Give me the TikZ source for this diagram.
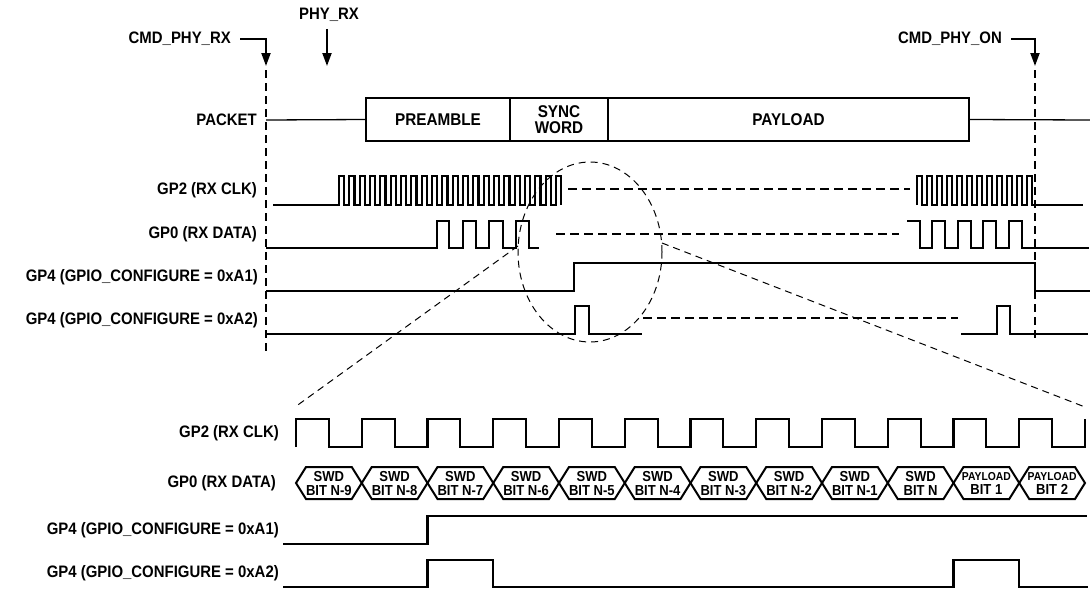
\documentclass[tikz,border=0pt]{standalone}
\usepackage{fontspec}
\setmainfont[FakeStretch=0.9]{Liberation Sans}
\usetikzlibrary{arrows.meta}
\begin{document}
\begin{tikzpicture}[x=1pt,y=-1pt,
  lbl/.style={font=\bfseries\fontsize{16.6}{17}\selectfont, anchor=east, inner sep=0pt},
  toplbl/.style={font=\bfseries\fontsize{16.6}{17}\selectfont, inner sep=0pt},
  wave/.style={line width=2.2pt, line join=miter},
  thickdash/.style={line width=2.2pt, dash pattern=on 9pt off 5pt},
  marker/.style={line width=2pt, dash pattern=on 8pt off 5pt},
  zoomline/.style={line width=1pt, dash pattern=on 7pt off 5pt},
  pbox/.style={draw, line width=2.2pt, minimum height=43pt, inner sep=0pt, align=center,
               font=\bfseries\fontsize{17}{16}\selectfont},
  hexline/.style={line width=2pt, line join=miter},
  hexlbl/.style={font=\bfseries\fontsize{14.5}{14.5}\selectfont, align=center, inner sep=0pt},
  arr/.style={line width=2pt, -{Triangle[width=9pt,length=13pt]}}
]
\useasboundingbox (0,0) rectangle (1090,590);
\fill[white] (0,0) rectangle (1090,590);

% ---- event markers
\node[toplbl] (phyrx) at (329,15) {PHY\_RX};
\node[toplbl, anchor=east] (cmdrx) at (231,39) {CMD\_PHY\_RX};
\node[toplbl, anchor=east] (cmdon) at (1002,39) {CMD\_PHY\_ON};
\draw[arr] ([yshift=-7pt]phyrx.south -| 327,0) -- (327,66);
\draw[arr] ([xshift=9pt]cmdrx.east) -| (266,66);
\draw[arr] ([xshift=9pt]cmdon.east) -| (1035,66);
\draw[marker] (266,70) -- (266,351);
\draw[marker] (1035,70) -- (1035,338);

% ---- packet
\node[lbl] (lpacket) at (257,120) {PACKET};
\node[pbox, minimum width=144pt] (pre) at (438,119.5) {PREAMBLE};
\node[pbox, minimum width=98pt] (sync) at (559,119.5) {SYNC\\WORD};
\node[pbox, minimum width=361pt] (pay) at (788.5,119.5) {PAYLOAD};
\draw[line width=1.3pt] (266,120) -- (pre.west);
\draw[line width=1.3pt] (pay.east) -- (1090,120);

% ---- top labels
\node[lbl] (lclk) at (257,190.5) {GP2 (RX CLK)};
\node[lbl] (ldata) at (257,234.5) {GP0 (RX DATA)};
\node[lbl] (la1) at (258,277) {GP4 (GPIO\_CONFIGURE = 0xA1)};
\node[lbl] (la2) at (258,320) {GP4 (GPIO\_CONFIGURE = 0xA2)};

% ---- top clock
\draw[wave] (273,205) foreach \k in {0,...,21} {
   -- ({339+\k*10.33},205) -- ({339+\k*10.33},176) -- ({339+\k*10.33+5.165},176) -- ({339+\k*10.33+5.165},205) };
\draw[thickdash] (568,189) -- (910,189);
\draw[wave] (917,205) foreach \k in {0,...,11} {
   -- ({917+\k*10},205) -- ({917+\k*10},176) -- ({917+\k*10+5},176) -- ({917+\k*10+5},205) } -- (1083,205);

% ---- top data
\draw[wave] (266,248) -- (437,248) -- (437,221) -- (449,221) -- (449,248) -- (463,248) -- (463,221)
  -- (476,221) -- (476,248) -- (489,248) -- (489,221) -- (503,221) -- (503,248) -- (516,248)
  -- (516,221) -- (529,221) -- (529,248) -- (539,248);
\draw[thickdash] (556,234) -- (899,234);
\draw[wave] (907,221) -- (920,221) -- (920,248) -- (932,248) -- (932,221) -- (945,221) -- (945,248)
  -- (958,248) -- (958,221) -- (971,221) -- (971,248) -- (983,248) -- (983,221) -- (996,221)
  -- (996,248) -- (1009,248) -- (1009,221) -- (1022,221) -- (1022,248) -- (1089,248);

% ---- top GP4 A1 / A2
\draw[wave] (266,291) -- (574,291) -- (574,263) -- (1035,263) -- (1035,291) -- (1090,291);
\draw[wave] (266,334) -- (575,334) -- (575,306) -- (589,306) -- (589,334) -- (642,334);
\draw[thickdash] (643,318) -- (958,318);
\draw[wave] (961,334) -- (997,334) -- (997,306) -- (1010,306) -- (1010,334) -- (1088,334);

% ---- zoom ellipse and lines
\draw[zoomline] (590,252) ellipse [x radius=72pt, y radius=90pt];
\coordinate (zl1) at (518,246);
\coordinate (zl2) at (295,407);
\coordinate (zr1) at (662,243);
\coordinate (zr2) at (1085,407);
\draw[zoomline] (zl1) -- (zl2);
\draw[zoomline] (zr1) -- (zr2);

% ---- bottom labels
\node[lbl] (bclk) at (279,433) {GP2 (RX CLK)};
\node[lbl] (bdata) at (276,483) {GP0 (RX DATA)};
\node[lbl] (ba1) at (279,530) {GP4 (GPIO\_CONFIGURE = 0xA1)};
\node[lbl] (ba2) at (279,573.5) {GP4 (GPIO\_CONFIGURE = 0xA2)};

% ---- bottom clock
\def\pp{65.75}
\draw[wave] (296,447) foreach \k in {0,...,11} {
   -- ({296+\k*\pp},447) -- ({296+\k*\pp},419) -- ({296+\k*\pp+\pp/2},419) -- ({296+\k*\pp+\pp/2},447) }
   -- (1085,447) -- (1085,419);

% ---- bottom data hexagons
\foreach \k/\t in {0/N-9,1/N-8,2/N-7,3/N-6,4/N-5,5/N-4,6/N-3,7/N-2,8/N-1,9/N} {
  \draw[hexline] ({296+\k*\pp},483) -- ({306+\k*\pp},467) -- ({286+(\k+1)*\pp},467) -- ({296+(\k+1)*\pp},483)
     -- ({286+(\k+1)*\pp},499) -- ({306+\k*\pp},499) -- cycle;
  \node[hexlbl] (hex\k) at ({296+(\k+0.5)*\pp},483.5) {SWD\\BIT \t};
}
\foreach \k/\t in {10/1,11/2} {
  \draw[hexline] ({296+\k*\pp},483) -- ({306+\k*\pp},467) -- ({286+(\k+1)*\pp},467) -- ({296+(\k+1)*\pp},483)
     -- ({286+(\k+1)*\pp},499) -- ({306+\k*\pp},499) -- cycle;
  \node[hexlbl] (hex\k) at ({296+(\k+0.5)*\pp},483.5) {{\fontsize{11.5}{12}\selectfont PAYLOAD}\\BIT \t};
}

% ---- bottom GP4 A1 / A2
\draw[wave] (283,544) -- ({296+2*\pp},544) -- ({296+2*\pp},516) -- (1087,516);
\draw[wave] (283,587) -- ({296+2*\pp},587) -- ({296+2*\pp},560) -- ({296+3*\pp},560) -- ({296+3*\pp},587)
  -- ({296+10*\pp},587) -- ({296+10*\pp},560) -- ({296+11*\pp},560) -- ({296+11*\pp},587) -- (1088,587);
\end{tikzpicture}
\end{document}
